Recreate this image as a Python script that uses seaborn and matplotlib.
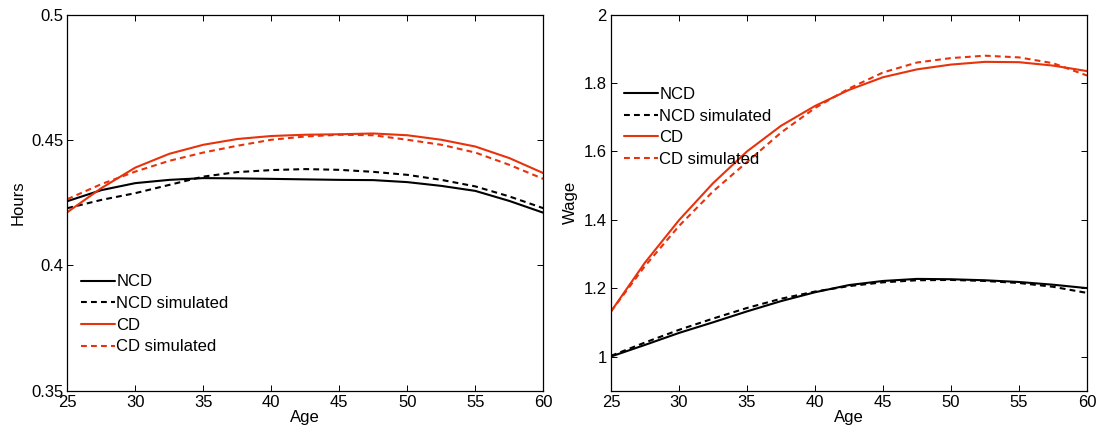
import numpy as np
import pandas as pd
import seaborn as sns
import matplotlib.pyplot as plt

# --- data ---
ages = [25, 27.5, 30, 32.5, 35, 37.5, 40, 42.5, 45, 47.5, 50, 52.5, 55, 57.5, 60]

hours_ncd = [0.4256, 0.4300, 0.4328, 0.4341, 0.4348, 0.4347, 0.4345, 0.4343,
             0.4341, 0.4340, 0.4332, 0.4317, 0.4297, 0.4257, 0.4210]
hours_ncd_sim = [0.4228, 0.4261, 0.4288, 0.4321, 0.4354, 0.4372, 0.4380, 0.4384,
                 0.4381, 0.4373, 0.4361, 0.4341, 0.4315, 0.4275, 0.4228]
hours_cd = [0.4212, 0.4308, 0.4390, 0.4445, 0.4481, 0.4504, 0.4516, 0.4521,
            0.4523, 0.4526, 0.4519, 0.4501, 0.4474, 0.4428, 0.4368]
hours_cd_sim = [0.4264, 0.4324, 0.4374, 0.4417, 0.4450, 0.4477, 0.4501, 0.4514,
                0.4521, 0.4519, 0.4501, 0.4481, 0.4450, 0.4401, 0.4345]

wage_ncd = [1.000, 1.034, 1.069, 1.100, 1.132, 1.162, 1.188, 1.209,
            1.221, 1.227, 1.226, 1.223, 1.218, 1.210, 1.200]
wage_ncd_sim = [1.002, 1.041, 1.078, 1.111, 1.142, 1.169, 1.190, 1.206,
                1.217, 1.223, 1.224, 1.221, 1.215, 1.204, 1.186]
wage_cd = [1.132, 1.275, 1.399, 1.507, 1.600, 1.675, 1.733, 1.780,
           1.817, 1.840, 1.854, 1.862, 1.861, 1.851, 1.835]
wage_cd_sim = [1.132, 1.265, 1.382, 1.483, 1.569, 1.655, 1.727, 1.784,
               1.831, 1.860, 1.873, 1.880, 1.875, 1.858, 1.822]

labels = ['NCD', 'NCD simulated', 'CD', 'CD simulated']
colors = ['black', 'black', '#e8320c', '#e8320c']
styles = ['-', (0, (2.8, 2.0)), '-', (0, (2.8, 2.0))]

sns.set_style('ticks')
plt.rcParams['font.family'] = ['Liberation Sans', 'DejaVu Sans']
plt.rcParams['xtick.direction'] = 'in'
plt.rcParams['ytick.direction'] = 'in'
# plain black text and frame, like the original MATLAB figure
for key in ['text.color', 'axes.labelcolor', 'xtick.color', 'ytick.color', 'axes.edgecolor']:
    plt.rcParams[key] = 'black'

FS = 12

fig = plt.figure(figsize=(11, 4.34), dpi=100)
ax1 = fig.add_axes([0.0612, 0.0998, 0.4327, 0.8664])
ax2 = fig.add_axes([0.5555, 0.0998, 0.4327, 0.8664])


def draw(ax, series, ylabel, ylim, yticks, ytl, leg_x, leg_y):
    for vals, lab, col, ls in zip(series, labels, colors, styles):
        df = pd.DataFrame({'Age': ages, 'v': vals})
        sns.lineplot(data=df, x='Age', y='v', ax=ax, color=col, linestyle=ls,
                     linewidth=1.5, label=lab)
    ax.set_xlim(25, 60)
    ax.set_ylim(*ylim)
    ax.set_xticks(range(25, 61, 5))
    ax.set_yticks(yticks)
    ax.set_yticklabels(ytl)
    ax.set_xlabel('Age', fontsize=FS, labelpad=0)
    ax.set_ylabel(ylabel, fontsize=FS, labelpad=4)
    ax.tick_params(labelsize=FS, length=4, width=0.7, top=True, right=True, pad=3)
    for s in ax.spines.values():
        s.set_linewidth(0.9)
    ax.legend(loc='upper left', bbox_to_anchor=(leg_x, leg_y), frameon=False,
              borderpad=0, borderaxespad=0, handlelength=2.0, handletextpad=0.1,
              labelspacing=0.4, fontsize=FS)


draw(ax1, [hours_ncd, hours_ncd_sim, hours_cd, hours_cd_sim], 'Hours',
     (0.35, 0.5), [0.35, 0.4, 0.45, 0.5], ['0.35', '0.4', '0.45', '0.5'],
     0.0295, 0.309)
draw(ax2, [wage_ncd, wage_ncd_sim, wage_cd, wage_cd_sim], 'Wage',
     (0.9, 2.0), [1, 1.2, 1.4, 1.6, 1.8, 2], ['1', '1.2', '1.4', '1.6', '1.8', '2'],
     0.028, 0.808)

plt.savefig('out.png', dpi=100)
